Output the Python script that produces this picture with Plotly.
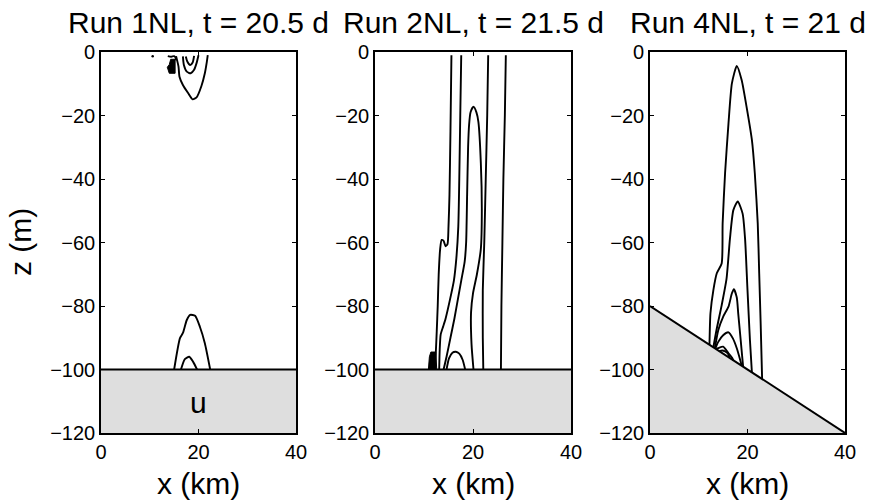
import plotly.graph_objects as go

# ---- Run 1NL (flat bottom at -100 m) -------------------------------------
run1_top_outer_x = [15.4, 15.9, 16.1, 16.8, 17.9, 18.8, 19.6, 20.6, 21.3, 21.7, 21.9]
run1_top_outer_z = [-1.3, -4.6, -7.8, -10.4, -13.0, -14.9, -14.3, -10.7, -6.7, -3.2, -1.0]
run1_top_mid_x = [16.8, 17.0, 17.6, 18.4, 19.1, 19.6, 20.0]
run1_top_mid_z = [-1.4, -4.1, -6.2, -6.7, -5.6, -3.5, -1.0]
run1_top_inner_x = [17.4, 17.7, 18.3, 18.8, 19.1]
run1_top_inner_z = [-1.4, -3.0, -4.1, -3.3, -1.2]
run1_patch_x = [14.3, 15.2, 15.2, 14.0, 13.6, 14.0, 14.3]
run1_patch_z = [-2.3, -2.3, -6.7, -6.7, -4.8, -4.0, -2.3]
run1_tick_x = [13.7, 14.4, 15.0, 15.3, 15.4]
run1_tick_z = [-1.3, -1.5, -1.3, -1.8, -2.6]
run1_dot_x = [10.6]
run1_dot_z = [-1.3]
run1_bot_outer_x = [15.0, 16.2, 16.8, 17.6, 18.3, 19.3, 20.3, 21.3, 22.4]
run1_bot_outer_z = [-100.0, -90.1, -88.5, -84.4, -82.8, -83.1, -86.6, -91.7, -100.0]
run1_bot_inner_x = [16.4, 17.2, 18.1, 18.9, 19.7]
run1_bot_inner_z = [-100.0, -96.7, -96.0, -97.6, -100.0]

# ---- Run 2NL (flat bottom at -100 m) -------------------------------------
run2_a_x = [15.6, 15.4, 15.2, 15.0, 14.8, 14.4, 14.0, 13.6, 13.3, 13.0, 12.8, 12.6, 12.4, 12.2]
run2_a_z = [-1.0, -25.0, -45.0, -55.0, -60.5, -61.2, -59.5, -59.2, -62.0, -70.0, -80.0, -88.0, -95.0, -100.0]
run2_b_x = [17.6, 17.4, 17.2, 17.0, 16.6, 16.1, 15.3, 14.4, 13.9, 13.4, 13.2, 13.1]
run2_b_z = [-1.0, -20.0, -40.0, -55.0, -65.0, -72.0, -78.0, -84.0, -86.5, -89.0, -94.0, -100.0]
run2_arch_x = [14.0, 14.6, 15.4, 16.2, 16.9, 17.6, 18.3, 18.6, 18.8, 19.0, 19.2, 19.5, 20.1,
               20.7, 21.1, 21.6, 21.8, 21.6, 20.8, 20.0, 19.6, 19.7, 20.1]
run2_arch_z = [-100.0, -96.0, -90.0, -84.0, -78.0, -72.0, -66.0, -60.0, -45.0, -30.0, -23.0, -19.0, -17.2,
               -19.0, -22.0, -35.0, -50.0, -62.0, -70.0, -76.0, -82.0, -92.0, -100.0]
run2_small_x = [14.6, 15.1, 15.8, 16.5, 17.2, 17.9, 18.4]
run2_small_z = [-100.0, -96.5, -94.7, -94.4, -95.0, -97.0, -100.0]
run2_d_x = [23.1, 22.9, 22.6, 22.3, 22.0, 22.0, 22.1]
run2_d_z = [-1.0, -20.0, -40.0, -60.0, -75.0, -90.0, -100.0]
run2_e_x = [26.7, 26.5, 26.2, 26.0, 25.8, 25.7]
run2_e_z = [-1.0, -20.0, -40.0, -60.0, -80.0, -100.0]
run2_patch_x = [10.9, 11.1, 11.4, 12.4, 12.6, 10.9]
run2_patch_z = [-100.0, -96.0, -94.5, -94.5, -100.0, -100.0]

# ---- Run 4NL (sloping bottom) --------------------------------------------
run4_c1_x = [12.2, 12.4, 13.0, 13.7, 14.7, 14.9, 15.4, 16.1, 16.8, 17.8,
             18.8, 19.8, 20.9, 21.5, 22.1, 22.4, 22.7, 23.0]
run4_c1_z = [-92.2, -82.3, -75.0, -69.7, -66.6, -54.0, -38.2, -22.5, -9.9, -4.4,
             -8.8, -17.2, -27.7, -38.2, -54.0, -69.7, -85.5, -103.0]
run4_c2_x = [13.0, 13.7, 14.7, 15.7, 16.4, 17.1, 18.0, 19.0, 19.5, 20.0, 20.5, 20.9]
run4_c2_z = [-93.0, -87.1, -79.8, -71.4, -58.8, -49.8, -47.1, -50.9, -58.8, -75.0, -90.7, -100.9]
run4_c3_x = [13.3, 14.0, 15.0, 16.1, 16.8, 17.2, 17.8, 18.1, 18.6, 19.1]
run4_c3_z = [-93.3, -87.6, -83.4, -80.2, -76.0, -74.7, -77.3, -82.4, -90.7, -99.1]
run4_c4_x = [13.4, 14.0, 15.0, 16.1, 17.0, 17.8, 18.5, 18.8]
run4_c4_z = [-93.4, -91.3, -89.2, -88.3, -90.2, -93.3, -97.0, -98.8]
run4_c5_x = [13.6, 14.0, 15.0, 16.1, 16.8, 17.1]
run4_c5_z = [-93.6, -93.3, -92.8, -94.9, -96.2, -97.1]
run4_c6_x = [14.2, 14.8, 15.4, 16.0, 16.3]
run4_c6_z = [-94.2, -94.0, -94.3, -95.0, -96.3]

# bottom topography
flat_bottom_x = [0, 40]
flat_bottom_z = [-100, -100]
slope_bottom_x = [0, 40]
slope_bottom_z = [-80, -120]
z_floor = -120

titles = ["Run 1NL, t = 20.5 d", "Run 2NL, t = 21.5 d", "Run 4NL, t = 21 d"]
x_ticks = [0, 20, 40]
z_ticks = [0, -20, -40, -60, -80, -100, -120]

W, H = 871, 501
x_domains = [[101 / W, 296 / W], [375 / W, 571 / W], [650 / W, 845 / W]]
y_domain = [1 - 433 / H, 1 - 52 / H]

FONT = "Liberation Sans, Arial, Helvetica, sans-serif"
GRAY = "#dedede"
LW = 1.9

fig = go.Figure()


def add_line(x, z, k, width=LW):
    fig.add_trace(go.Scatter(x=x, y=z, mode="lines", xaxis=f"x{k}", yaxis=f"y{k}",
                             line=dict(color="black", width=width, shape="spline", smoothing=0.6),
                             hoverinfo="skip", showlegend=False))


def add_patch(x, z, k):
    fig.add_trace(go.Scatter(x=x, y=z, mode="lines", fill="toself", fillcolor="black",
                             xaxis=f"x{k}", yaxis=f"y{k}", line=dict(color="black", width=1),
                             hoverinfo="skip", showlegend=False))


def add_ground(bx, bz, k):
    fx = list(bx) + [bx[-1], bx[0], bx[0]]
    fz = list(bz) + [z_floor, z_floor, bz[0]]
    fig.add_trace(go.Scatter(x=fx, y=fz, mode="lines", fill="toself", fillcolor=GRAY,
                             line=dict(width=0), xaxis=f"x{k}", yaxis=f"y{k}",
                             hoverinfo="skip", showlegend=False))
    fig.add_trace(go.Scatter(x=bx, y=bz, mode="lines", xaxis=f"x{k}", yaxis=f"y{k}",
                             line=dict(color="black", width=LW), hoverinfo="skip", showlegend=False))


# panel 1
add_ground(flat_bottom_x, flat_bottom_z, 1)
for cx, cz in [(run1_top_outer_x, run1_top_outer_z), (run1_top_mid_x, run1_top_mid_z),
               (run1_top_inner_x, run1_top_inner_z), (run1_bot_outer_x, run1_bot_outer_z),
               (run1_bot_inner_x, run1_bot_inner_z), (run1_tick_x, run1_tick_z)]:
    add_line(cx, cz, 1)
add_patch(run1_patch_x, run1_patch_z, 1)
fig.add_trace(go.Scatter(x=run1_dot_x, y=run1_dot_z, mode="markers", xaxis="x1", yaxis="y1",
                         marker=dict(color="black", size=2.5), hoverinfo="skip", showlegend=False))

# panel 2
add_ground(flat_bottom_x, flat_bottom_z, 2)
for cx, cz in [(run2_a_x, run2_a_z), (run2_b_x, run2_b_z), (run2_arch_x, run2_arch_z),
               (run2_small_x, run2_small_z), (run2_d_x, run2_d_z), (run2_e_x, run2_e_z)]:
    add_line(cx, cz, 2)
add_patch(run2_patch_x, run2_patch_z, 2)

# panel 3
add_ground(slope_bottom_x, slope_bottom_z, 3)
for cx, cz in [(run4_c1_x, run4_c1_z), (run4_c2_x, run4_c2_z), (run4_c3_x, run4_c3_z),
               (run4_c4_x, run4_c4_z), (run4_c5_x, run4_c5_z), (run4_c6_x, run4_c6_z)]:
    add_line(cx, cz, 3)

axis_common = dict(showline=True, mirror="ticks", linecolor="black", linewidth=1.6,
                   ticks="inside", ticklen=4, tickwidth=1.3, tickcolor="black",
                   showgrid=False, zeroline=False, layer="above traces", automargin=False,
                   tickfont=dict(family=FONT, size=20, color="black"))

layout = dict(template="none", width=W, height=H, margin=dict(l=0, r=0, t=0, b=0, pad=0),
              paper_bgcolor="white", plot_bgcolor="white", showlegend=False)

annotations = []
for i in range(3):
    k = i + 1
    sx = "" if k == 1 else str(k)
    layout[f"xaxis{sx}"] = dict(axis_common, domain=x_domains[i], range=[0, 40],
                                tickvals=x_ticks, anchor=f"y{sx}", ticklabelstandoff=0)
    layout[f"yaxis{sx}"] = dict(axis_common, domain=y_domain, range=[-120, 0],
                                tickvals=z_ticks, anchor=f"x{sx}", ticklabelstandoff=0)
    cx = (x_domains[i][0] + x_domains[i][1]) / 2
    annotations.append(dict(text=titles[i], x=cx, y=1 - 22 / H, xref="paper", yref="paper",
                            xanchor="center", yanchor="middle", showarrow=False,
                            font=dict(family=FONT, size=30, color="black")))
    annotations.append(dict(text="x (km)", x=cx, y=1 - 483 / H, xref="paper", yref="paper",
                            xanchor="center", yanchor="middle", showarrow=False,
                            font=dict(family=FONT, size=30, color="black")))

annotations.append(dict(text="z (m)", x=20 / W, y=1 - 242 / H, xref="paper", yref="paper",
                        xanchor="center", yanchor="middle", textangle=-90, showarrow=False,
                        font=dict(family=FONT, size=30, color="black")))
annotations.append(dict(text="u", x=20, y=-110.3, xref="x", yref="y",
                        xanchor="center", yanchor="middle", showarrow=False,
                        font=dict(family=FONT, size=30, color="black")))

layout["annotations"] = annotations
fig.update_layout(**layout)

fig.write_html("out.html")
